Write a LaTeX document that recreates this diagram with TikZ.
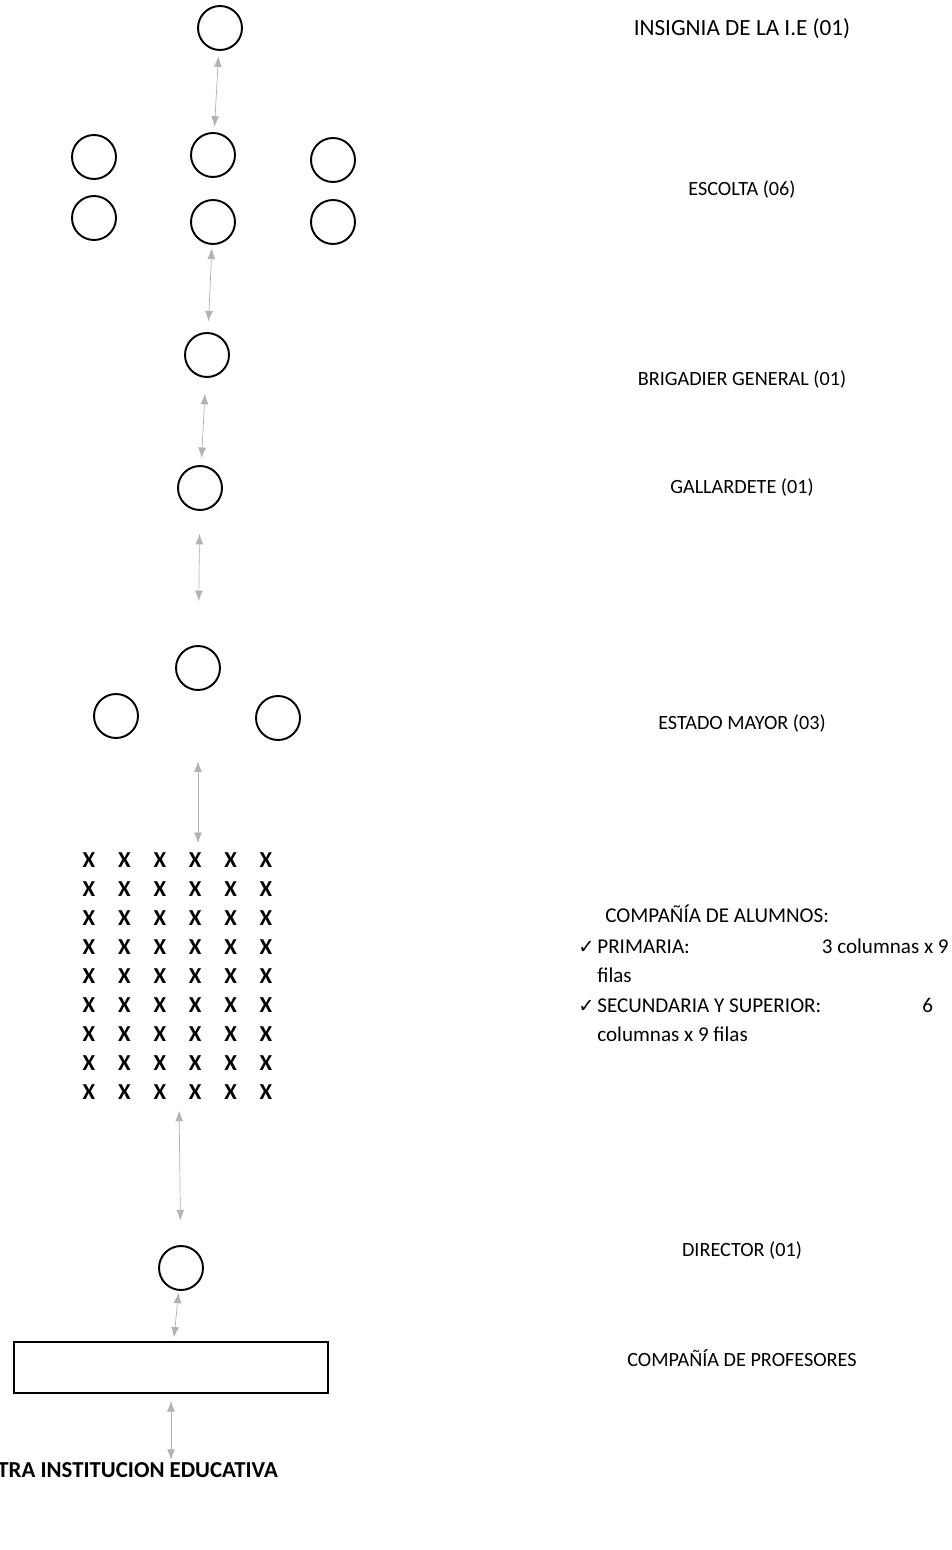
\documentclass[tikz,border=0pt]{standalone}
\usepackage{fontspec}
\setmainfont{Carlito}
\newfontfamily\chkfont{DejaVu Sans}
\usetikzlibrary{arrows.meta,positioning,fit}

\begin{document}
\begin{tikzpicture}[x=0.02cm,y=-0.02cm,font=\fontsize{11.5}{13}\selectfont,
    p/.style={circle,draw,line width=1.1pt,minimum size=0.88cm,inner sep=0pt},
    al/.style={font=\fontsize{13}{13}\selectfont\bfseries,inner sep=0pt},
    lab/.style={inner sep=0pt,anchor=base},
    lw/.style={inner sep=0pt,anchor=base west,font=\fontsize{12}{13}\selectfont},
    c/.style={{Latex[length=6pt,width=4.5pt]}-{Latex[length=6pt,width=4.5pt]},draw=black!30,line width=0.4pt},
    >=Latex]
  \useasboundingbox (0,0) rectangle (952,1550);
  % formacion
  \node[p] (ins) at (220,28) {};
  \node[p] (e1) at (94,157) {};
  \node[p] (e2) at (213,155) {};
  \node[p] (e3) at (333,160) {};
  \node[p] (e4) at (94,218) {};
  \node[p] (e5) at (213,222) {};
  \node[p] (e6) at (333,222) {};
  \node[p] (bg) at (207,355) {};
  \node[p] (gal) at (200,488) {};
  \node[p] (em) at (198,668) {};
  \node[p] (em1) at (116,716) {};
  \node[p] (em2) at (278,718) {};
  % alumnos
  \foreach \i in {1,...,9}
    \foreach \j in {1,...,6}
      \node[al] (x\i\j) at ({89+35.4*(\j-1)},{860+29*(\i-1)}) {X};
  \node[fit=(x11)(x96),inner sep=1pt] (alumnos) {};
  \node[p] (dir) at (181,1268) {};
  \node[draw,line width=1.1pt,minimum width=6.28cm,minimum height=1.02cm] (prof) at (171,1367.5) {};
  \node[inner sep=0pt,anchor=base west,font=\fontsize{13}{14}\selectfont\bfseries] (ie) at (-3,1477) {TRA INSTITUCION EDUCATIVA};

  \draw[c,shorten <=3pt,shorten >=3pt] (ins) -- (e2);
  \draw[c,shorten <=2pt,shorten >=6pt] (e5) -- (bg);
  \draw[c,shorten <=9pt,shorten >=4pt] (bg) -- (gal);
  \draw[c,shorten <=13pt,shorten >=25pt] (gal) -- (em);
  \draw[c,shorten <=40pt,shorten >=4pt] (em) -- (em |- alumnos.north);
  \draw[c,shorten <=5pt,shorten >=14pt] (alumnos) -- (dir);
  \draw[c,shorten <=1pt,shorten >=2pt] (dir) -- (prof);
  \draw[c,shorten <=4pt,shorten >=1pt] (prof) -- (prof |- ie.north);

  % textos
  \node[lab,font=\fontsize{13.2}{14}\selectfont] (l1) at (742,36) {INSIGNIA DE LA I.E (01)};
  \node[lab] (l2) at (742,196) {ESCOLTA (06)};
  \node[lab] (l3) at (742,386) {BRIGADIER GENERAL (01)};
  \node[lab] (l4) at (742,494) {GALLARDETE (01)};
  \node[lab] (l5) at (742,729) {ESTADO MAYOR (03)};
  \node[lw] (l6) at (605,922) {COMPAÑÍA DE ALUMNOS:};
  \node[lw] (k1) at (578,953) {\chkfont\fontsize{11}{12}\selectfont ✓};
  \node[lw] (l7) at (597,953) {PRIMARIA:};
  \node[inner sep=0pt,anchor=base east,font=\fontsize{12}{13}\selectfont] (l8) at (949,953) {3 columnas x 9};
  \node[lw] (l9) at (597,982) {filas};
  \node[lw] (k2) at (578,1012) {\chkfont\fontsize{11}{12}\selectfont ✓};
  \node[lw] (l10) at (597,1012) {SECUNDARIA Y SUPERIOR:};
  \node[lw] (l11) at (922,1012) {6};
  \node[lw] (l12) at (597,1041) {columnas x 9 filas};
  \node[lab] (l13) at (742,1256) {DIRECTOR (01)};
  \node[lab] (l14) at (742,1366) {COMPAÑÍA DE PROFESORES};
\end{tikzpicture}
\end{document}
